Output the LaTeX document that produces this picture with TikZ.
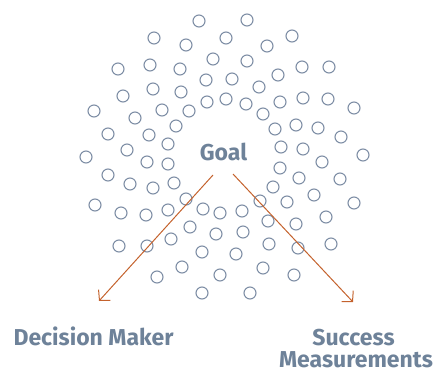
\documentclass[tikz,border=0pt]{standalone}
\usepackage{fontspec}
\setmainfont{Fira Sans}
\usetikzlibrary{arrows.meta}
\definecolor{dotc}{HTML}{7F8FA6}
\definecolor{textc}{HTML}{6E8299}
\definecolor{arrowc}{HTML}{C4622D}
\tikzset{
  dot/.style={draw=dotc, line width=1.1pt, fill=white},
  label/.style={font=\fontsize{23}{26}\selectfont\bfseries, text=textc, inner sep=0pt},
  flow/.style={draw=arrowc, line width=1pt, -{Straight Barb[length=7.5pt,width=16pt,line width=1pt]}}
}
\begin{document}
\begin{tikzpicture}[x=1pt, y=-1pt]
  \useasboundingbox (0,0) rectangle (436,371);
  % scattered rings around the goal
  \foreach \px/\py in {
    199/21,154/38,186/45,213/59,118/69,150/65,180/69,206/80,123/96,153/89,181/92,207/102,
    94/111,135/118,162/110,189/111,176/126,108/134,149/135,168/144,127/150,
    247/20,226/38,267/46,292/36,247/61,302/67,329/67,278/75,232/79,259/87,226/99,246/104,
    263/114,280/102,303/98,328/99,354/108,275/129,296/125,318/128,341/137,281/147,303/149,
    86/157,147/162,168/164,108/175,130/184,153/188,174/183,186/199,95/205,121/213,
    146/215,168/210,203/209,220/213,190/227,171/239,216/234,119/246,147/246,202/252,182/267,
    220/275,157/277,202/293,
    363/155,322/162,280/168,299/178,340/179,273/187,314/195,260/201,287/202,354/203,242/211,
    268/221,296/224,326/217,243/232,269/244,298/248,331/244,236/254,263/268,294/275,250/293}
    \draw[dot] (\px,\py) circle[radius=6];

  % titles
  \node[label, anchor=base] (goal) at (223.5,161) {Goal};
  \node[label, anchor=base] (decision) at (93.5,345) {Decision Maker};
  \node[label, anchor=base] (success) at (353.5,345) {Success};
  \node[label, anchor=base] (measure) at (356,367.5) {Measurements};

  % arrow ends
  \coordinate (lstart) at (213,175);
  \coordinate (lend) at (99,301);
  \coordinate (rstart) at (233,174);
  \coordinate (rend) at (353,302);
  \draw[flow] (lstart) -- (lend);
  \draw[flow] (rstart) -- (rend);
\end{tikzpicture}
\end{document}
